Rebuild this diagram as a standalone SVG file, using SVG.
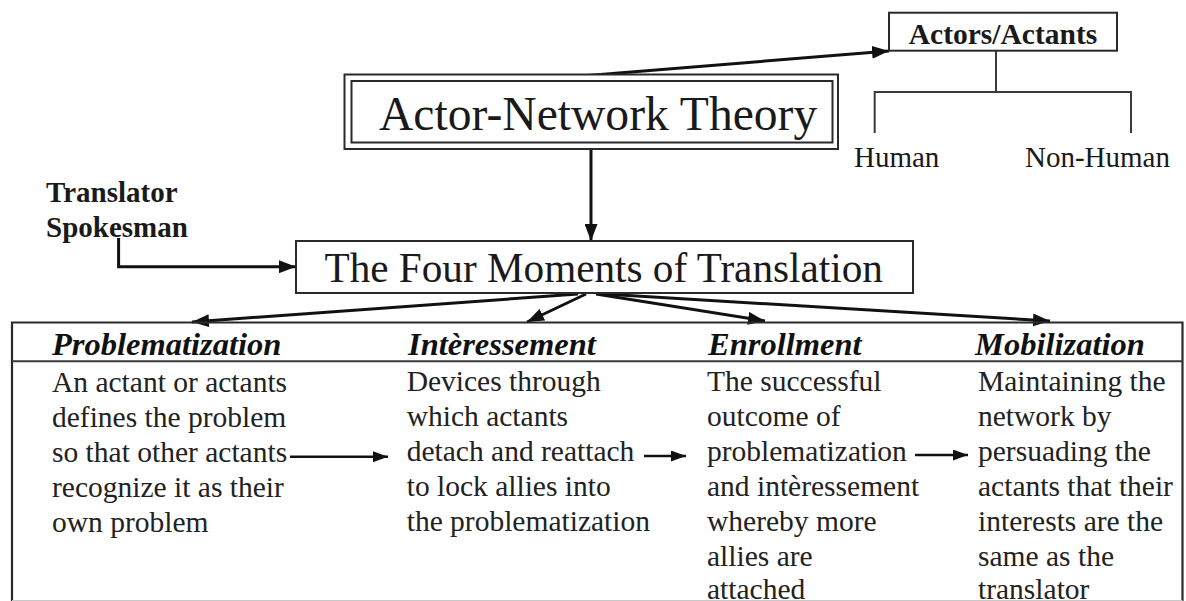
<svg xmlns="http://www.w3.org/2000/svg" width="1186" height="601" viewBox="0 0 1186 601">
<style>
.box{fill:#fff;stroke:#2a2a2a;stroke-width:2}
.ln{fill:none;stroke:#3a3a3a;stroke-width:2}
.ar{fill:none;stroke:#111;stroke-width:3}
.ar2{fill:none;stroke:#111;stroke-width:2.5}
.bt{font-family:"Liberation Serif","Times New Roman",serif;font-weight:bold;fill:#1a1a1a}
.rt{font-family:"Liberation Serif","Times New Roman",serif;fill:#1a1a1a}
.hd{font-family:"Liberation Serif","Times New Roman",serif;font-weight:bold;font-style:italic;font-size:32.5px;fill:#111}
.bd{font-family:"Liberation Serif","Times New Roman",serif;font-size:29.5px;fill:#222}
</style>
<defs>
<marker id="ah" markerUnits="userSpaceOnUse" markerWidth="17" markerHeight="13" refX="17" refY="6.5" orient="auto">
<path d="M0,0 L17,6.5 L0,13 z" fill="#111"/>
</marker>
<marker id="ahs" markerUnits="userSpaceOnUse" markerWidth="15" markerHeight="11" refX="15" refY="5.5" orient="auto">
<path d="M0,0 L15,5.5 L0,11 z" fill="#111"/>
</marker>
</defs>
<rect width="1186" height="601" fill="#fff"/>

<g id="connectors">
<line class="ar" x1="588" y1="75.5" x2="889" y2="51" marker-end="url(#ah)"/>
<line class="ar" x1="591" y1="149" x2="591" y2="241" marker-end="url(#ah)"/>
<polyline class="ar" points="118.6,238 118.6,266.7 296,266.7" marker-end="url(#ah)"/>
<line class="ar" x1="578" y1="294" x2="192" y2="322" marker-end="url(#ah)"/>
<line class="ar" x1="586" y1="294" x2="527" y2="322" marker-end="url(#ah)"/>
<line class="ar" x1="596" y1="294" x2="765" y2="321" marker-end="url(#ah)"/>
<line class="ar" x1="604" y1="294" x2="1050" y2="321" marker-end="url(#ah)"/>
<line class="ar2" x1="290" y1="456.7" x2="388" y2="456.7" marker-end="url(#ahs)"/>
<line class="ar2" x1="644" y1="456" x2="686" y2="456" marker-end="url(#ahs)"/>
<line class="ar2" x1="915" y1="455" x2="968" y2="455" marker-end="url(#ahs)"/>
<polyline class="ln" points="996,50.7 996,92"/>
<polyline class="ln" points="874.7,133 874.7,92 1131,92 1131,133"/>
</g>

<g id="actors">
<rect class="box" x="889" y="12.7" width="228" height="38"/>
<text class="bt" x="1003" y="44" font-size="29.5" text-anchor="middle">Actors/Actants</text>
</g>

<g id="human">
<text class="rt" x="854" y="166.7" font-size="29">Human</text>
</g>
<g id="nonhuman">
<text class="rt" x="1025" y="166.7" font-size="29">Non-Human</text>
</g>

<g id="ant">
<rect class="box" x="344.5" y="74.5" width="493.5" height="74.5" stroke-width="2.6"/>
<rect class="box" x="351.5" y="81" width="481" height="61.5"/>
<text class="rt" x="379" y="129.5" font-size="47.6">Actor-Network Theory</text>
</g>

<g id="translator">
<text class="bt" x="46" y="202" font-size="29">Translator</text>
<text class="bt" x="46" y="236.7" font-size="29">Spokesman</text>
</g>

<g id="fourmoments">
<rect class="box" x="296" y="241" width="617" height="52"/>
<text class="rt" x="324.5" y="281.7" font-size="41.2">The Four Moments of Translation</text>
</g>

<g id="table">
<polyline points="12,602 12,322.5 1182.5,322.5 1182.5,602" fill="none" stroke="#2a2a2a" stroke-width="2.2"/>
<line class="ln" x1="12" y1="361.2" x2="1182.5" y2="361.2"/>
<line x1="12" y1="600.5" x2="1182.5" y2="600.5" stroke="#c8c8c8" stroke-width="1"/>
</g>

<g id="problematization">
<text class="hd" x="52" y="355">Problematization</text>
<text class="bd" x="52" y="391.7">An actant or actants</text>
<text class="bd" x="52" y="426.5">defines the problem</text>
<text class="bd" x="52" y="461.5">so that other actants</text>
<text class="bd" x="52" y="496.5">recognize it as their</text>
<text class="bd" x="52" y="531.5">own problem</text>
</g>

<g id="interessement">
<text class="hd" x="408" y="355">Intèressement</text>
<text class="bd" x="406.7" y="391">Devices through</text>
<text class="bd" x="406.7" y="426">which actants</text>
<text class="bd" x="406.7" y="461">detach and reattach</text>
<text class="bd" x="406.7" y="496">to lock allies into</text>
<text class="bd" x="406.7" y="531">the problematization</text>
</g>

<g id="enrollment">
<text class="hd" x="708" y="355">Enrollment</text>
<text class="bd" x="707" y="391">The successful</text>
<text class="bd" x="707" y="426">outcome of</text>
<text class="bd" x="707" y="461">problematization</text>
<text class="bd" x="707" y="496">and intèressement</text>
<text class="bd" x="707" y="531">whereby more</text>
<text class="bd" x="707" y="566">allies are</text>
<text class="bd" x="707" y="599">attached</text>
</g>

<g id="mobilization">
<text class="hd" x="975" y="355">Mobilization</text>
<text class="bd" x="978" y="391">Maintaining the</text>
<text class="bd" x="978" y="426">network by</text>
<text class="bd" x="978" y="461">persuading the</text>
<text class="bd" x="978" y="496">actants that their</text>
<text class="bd" x="978" y="531">interests are the</text>
<text class="bd" x="978" y="566">same as the</text>
<text class="bd" x="978" y="599">translator</text>
</g>
</svg>
